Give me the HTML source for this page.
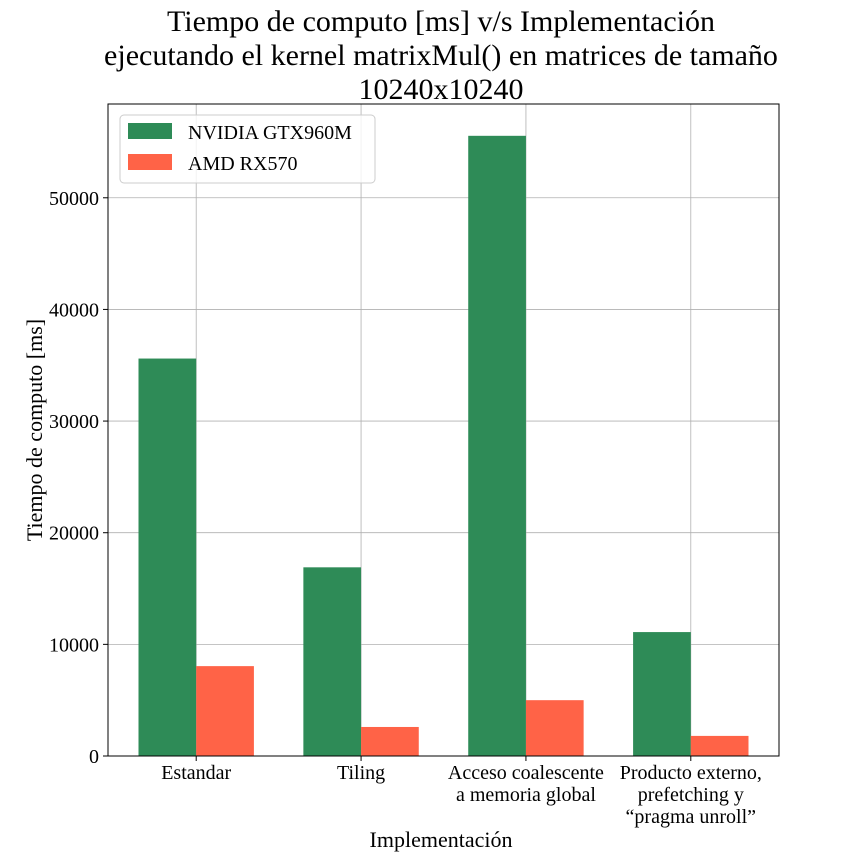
<!DOCTYPE html>
<html><head><meta charset="utf-8"><style>
html,body{margin:0;background:#fff;overflow:hidden;width:864px;height:864px}
svg{display:block}
svg text{font-family:"Liberation Serif",serif;fill:#000}
</style></head><body>
<svg id="c" width="864" height="864"></svg>
<script>
const categories=[["Estandar"],["Tiling"],["Acceso coalescente","a memoria global"],["Producto externo,","prefetching y","\u201cpragma unroll\u201d"]];
const nvidia=[35600,16900,55550,11100];
const amd=[8050,2600,5000,1800];
const yTicks=[0,10000,20000,30000,40000,50000];
const L=108,R=779,T=104,B=756;
const xmin=-0.535,xmax=3.535,ymax=58400;
const X=v=>L+(v-xmin)/(xmax-xmin)*(R-L);
const Y=v=>B-v/ymax*(B-T);
const svg=document.getElementById('c');
const NS='http://www.w3.org/2000/svg';
function mk(t,a,txt){const e=document.createElementNS(NS,t);for(const k in a)e.setAttribute(k,a[k]);if(txt!=null)e.textContent=txt;svg.appendChild(e);return e;}
yTicks.forEach(v=>{
 const g=mk('line',{x1:L,x2:R,y1:Y(v),y2:Y(v),stroke:'#b0b0b0','stroke-width':0.8});
 
 
 mk('line',{x1:L-5,x2:L,y1:Y(v),y2:Y(v),stroke:'#000'});
 const t=mk('text',{x:L-9,y:Y(v)+7,'text-anchor':'end','font-size':20},String(v));
 
 
});
categories.forEach((c,i)=>{
 const g=mk('line',{x1:X(i),x2:X(i),y1:T,y2:B,stroke:'#b0b0b0','stroke-width':0.8});
 
 
});
const w=0.35;
categories.forEach((c,i)=>{
 const b1=mk('rect',{x:X(i-w),y:Y(nvidia[i]),width:X(i)-X(i-w),height:B-Y(nvidia[i]),fill:'#2e8b57'});
 
 
 const b2=mk('rect',{x:X(i),y:Y(amd[i]),width:X(i+w)-X(i),height:B-Y(amd[i]),fill:'#ff6347'});
 
 
 mk('line',{x1:X(i),x2:X(i),y1:B,y2:B+5,stroke:'#000'});
 c.forEach((s,j)=>{
  const t=mk('text',{x:X(i),y:B+23+j*22,'text-anchor':'middle','font-size':20},s);
  
  
 });
});
const fr=mk('rect',{x:L,y:T,width:R-L,height:B-T,fill:'none',stroke:'#000','stroke-width':1});


</script>
<div style="position:absolute;left:0;top:0;width:864px;height:864px;pointer-events:none">
<svg width="864" height="864">
<text x="441" y="31" text-anchor="middle" font-size="30">Tiempo de computo [ms] v/s Implementación</text>
<text x="441" y="65" text-anchor="middle" font-size="30">ejecutando el kernel matrixMul() en matrices de tamaño</text>
<text x="441" y="99" text-anchor="middle" font-size="30">10240x10240</text>
<text x="441" y="847" text-anchor="middle" font-size="22">Implementación</text>
<text transform="translate(42,430) rotate(-90)" text-anchor="middle" font-size="22">Tiempo de computo [ms]</text>
<g>
<rect x="120" y="115" width="255" height="68" rx="4" fill="#fff" fill-opacity="0.8" stroke="#ccc"/>
<rect x="128" y="123" width="44" height="16" fill="#2e8b57"/>
<text x="188" y="139" font-size="20">NVIDIA GTX960M</text>
<rect x="128" y="154" width="44" height="16" fill="#ff6347"/>
<text x="188" y="170" font-size="20">AMD RX570</text>
</g>
</svg></div>
</body></html>
